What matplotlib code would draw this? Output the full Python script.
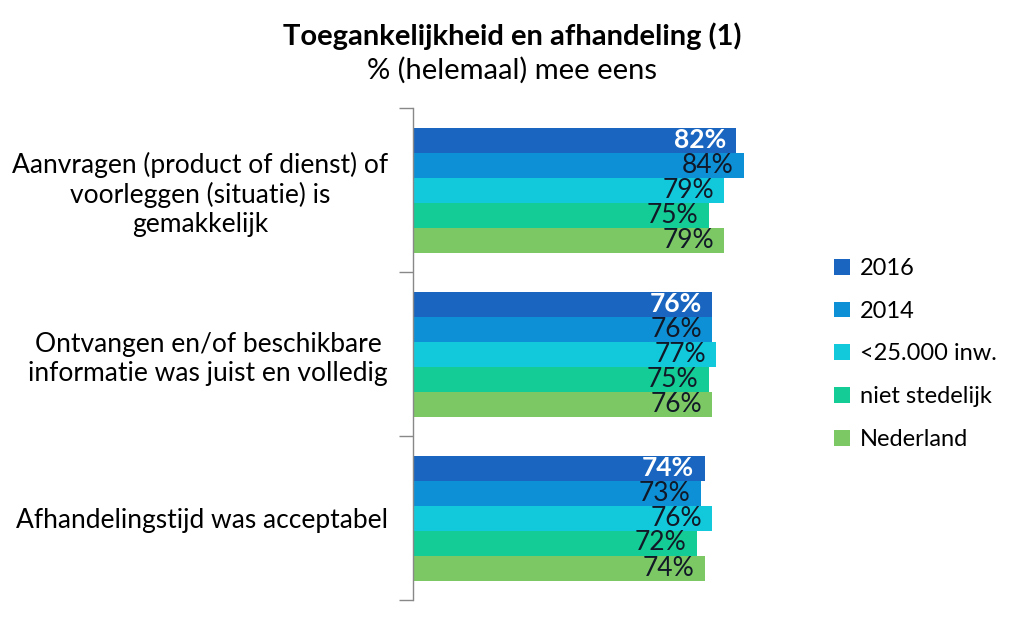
import matplotlib
matplotlib.use("Agg")
import matplotlib.pyplot as plt
import numpy as np
from matplotlib.patches import Patch

plt.rcParams['font.family'] = ['Lato', 'DejaVu Sans']

categories = ["Aanvragen (product of dienst) of\nvoorleggen (situatie) is\ngemakkelijk",
              "Ontvangen en/of beschikbare\ninformatie was juist en volledig",
              "Afhandelingstijd was acceptabel"]
series = ["2016", "2014", "<25.000 inw.", "niet stedelijk", "Nederland"]
values = {
    "2016": [82, 76, 74],
    "2014": [84, 76, 73],
    "<25.000 inw.": [79, 77, 76],
    "niet stedelijk": [75, 75, 72],
    "Nederland": [79, 76, 74],
}
colors = ["#1A65C0", "#0E90D6", "#12C9DC", "#14CC96", "#7CC864"]

fig = plt.figure(figsize=(10.24, 6.18), dpi=100)
ax = fig.add_axes([413/1024, 1-600/618, (807-413)/1024, (600-108)/618])

bh = 25/164
n = len(series)
y0 = np.arange(len(categories))
for i, s in enumerate(series):
    ys = y0 - (n*bh)/2 + bh*(i+0.5)
    bars = ax.barh(ys, values[s], height=bh, color=colors[i], edgecolor='none', zorder=2)
    for b, v in zip(bars, values[s]):
        if i == 0:
            ax.text(b.get_width()-2.6, b.get_y()+bh/2, f"{v}%", ha='right', va='center',
                    color='white', fontsize=19, fontweight='bold', zorder=3)
        else:
            ax.text(b.get_width()-2.6, b.get_y()+bh/2, f"{v}%", ha='right', va='center',
                    color='#111827', fontsize=19, zorder=3)

ax.set_xlim(0, 100)
ax.set_ylim(2.5, -0.5)
ax.set_xticks([])
ax.set_yticks([-0.5, 0.5, 1.5, 2.5])
ax.set_yticklabels([])
ax.set_yticks(y0, minor=True)
ax.set_yticklabels(categories, minor=True, fontsize=19, ha='right', multialignment='center')
ax.tick_params(axis='y', which='major', length=10, width=1, color='#888888', direction='out')
ax.tick_params(axis='y', which='minor', length=0, pad=18)
for sp in ['top', 'right', 'bottom']:
    ax.spines[sp].set_visible(False)
ax.spines['left'].set_color('#888888')
ax.spines['left'].set_linewidth(1)

fig.text(0.5, 1-36/618, "Toegankelijkheid en afhandeling (1)", ha='center', va='center',
         fontsize=21, fontweight='bold')
fig.text(0.5, 1-70/618, "% (helemaal) mee eens", ha='center', va='center', fontsize=21)

handles = [Patch(facecolor=c, edgecolor='none') for c in colors]
leg = fig.legend(handles, series, loc='center left', bbox_to_anchor=(813/1024, 1-354/618),
                 frameon=False, fontsize=17, handlelength=0.65, handleheight=0.65,
                 handletextpad=0.45, labelspacing=0.92)

fig.savefig("out.png", dpi=100)
